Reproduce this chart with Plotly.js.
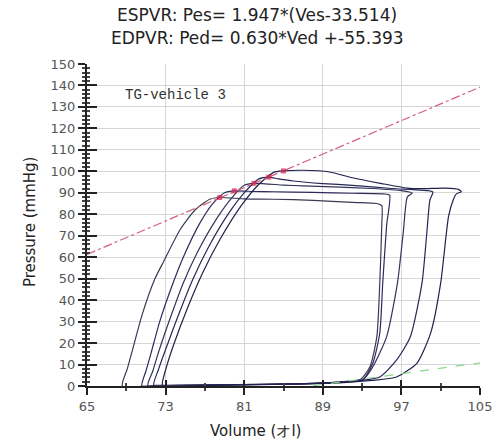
<!DOCTYPE html>
<html>
<head>
<meta charset="utf-8">
<script src="https://cdn.plot.ly/plotly-3.0.1.min.js"></script>
<style>html,body{margin:0;padding:0;background:#fff;}#chart{width:500px;height:447px;}</style>
</head>
<body>
<div id="chart"></div>
<script>
// Titles and labels
const titleLine1 = "ESPVR: Pes= 1.947*(Ves-33.514)";
const titleLine2 = "EDPVR: Ped= 0.630*Ved +-55.393";
const xTitle = "Volume (オl)";
const yTitle = "Pressure (mmHg)";
const noteText = "TG-vehicle 3";

// Regression lines
const espvrV = [65, 105];
const espvrP = [61.3, 139.2];
const edpvrV = [88, 105];
const edpvrP = [0.05, 10.8];

// PV loops (volume, pressure)
const loop1V = [68.6,72,78,84,88,91,92.8, 93.8,94.5,94.8,95.0,95.0, 94.5,92,88,84,81,78.5, 77.5,76,74.5,72.8,71.9,70.6,69.7,69.1,68.6];
const loop1P = [0,0.3,0.5,0.8,1.2,2,3, 9,23,48,75,84, 85,85.5,86.5,87,87.2,87.8, 87,82,73,58,49.8,33,18,8,0];

const loop2V = [70.6,74,80,86,90,92,93.1, 94.1,94.8,95.1,95.5,95.8, 95.2,92,88,84,82,80, 79,77.8,76.5,74.8,73.6,72.4,71.5,71,70.6];
const loop2P = [0,0.3,0.6,1,1.6,2.3,3, 10.7,24.7,48,75,88.9, 89.5,89.8,90.2,90.5,90.6,90.9, 90,85,76,60,46,30,15,7,0];

const loop3V = [71.2,75,81,87,90,92,93.1, 94.1,95.5,96.6,97.2,97.6,98.1, 97,94,90,87,85,82, 81,79.8,78.2,76.2,74.8,73.5,72.3,71.7,71.2];
const loop3P = [0,0.3,0.6,1,1.5,2.2,3, 9,23,48,72,88,89.9, 91,92,92.8,93.2,93.6,94.4, 93.5,88,78,62,48,32,16,7,0];

const loop4V = [71.8,76,82,88,91,93,94.8, 96.5,97.9,99.1,99.6,99.9,100.2, 99,96,92,89,86,84.5,83.5, 82.5,81.2,79.5,77.4,75.8,74.3,73,72.3,71.8];
const loop4P = [0,0.3,0.7,1.2,1.8,2.6,4.2, 12,22.8,48,72,86.6,90.4, 91.2,92,93.5,94.3,95.5,96.5,97.3, 96.5,91,81,65,50,33,17,8,0];

const loop5V = [72.7,77,83,88,91,94,96.5, 98.6,100,101,101.8,102.3,102.6, 103.1,102.8,101.5, 99,97.6,95,92,89.7,87,85, 84,82.5,80.7,78.5,76.8,75.2,73.8,73.1,72.7];
const loop5P = [0,0.3,0.7,1.1,1.6,2.6,4.2, 10.7,25,48,79,87,89.5, 90.5,91.6,92.2, 91.9,92.2,94.3,97,99.7,100.5,100.2, 99.5,94,84,68,53,36,19,9,0];

// End-systolic points on the ESPVR
const esV = [78.5, 80, 82, 83.5, 85];
const esP = [87.8, 90.9, 94.4, 97.3, 100.2];

const loopColors = ['#3a3a55', '#2c2c60', '#33335a', '#262658', '#20204f'];
const loops = [[loop1V, loop1P], [loop2V, loop2P], [loop3V, loop3P], [loop4V, loop4P], [loop5V, loop5P]];

const traces = [];
loops.forEach((l, i) => {
  traces.push({x: l[0], y: l[1], type: 'scatter', mode: 'lines',
    line: {color: loopColors[i], width: 1.2, shape: 'spline', smoothing: 0.6},
    hoverinfo: 'skip', showlegend: false});
});
traces.push({x: espvrV, y: espvrP, type: 'scatter', mode: 'lines',
  line: {color: '#d4607a', width: 1.2, dash: 'dashdot'}, showlegend: false, hoverinfo: 'skip'});
traces.push({x: edpvrV, y: edpvrP, type: 'scatter', mode: 'lines',
  line: {color: '#8fd68f', width: 1.2, dash: 'dash'}, showlegend: false, hoverinfo: 'skip'});
traces.push({x: esV, y: esP, type: 'scatter', mode: 'markers',
  marker: {color: 'rgba(210,40,80,0.75)', size: 5, symbol: 'square'}, showlegend: false, hoverinfo: 'skip'});
// invisible trace to keep the inside-tick overlay axes drawn
traces.push({x: [65], y: [0], xaxis: 'x2', yaxis: 'y2', mode: 'markers',
  marker: {opacity: 0}, showlegend: false, hoverinfo: 'skip'});

const tickFont = {family: 'DejaVu Sans', size: 13, color: '#555'};

const layout = {
  width: 500, height: 447,
  margin: {l: 87, r: 20, t: 64, b: 61},
  paper_bgcolor: '#fff', plot_bgcolor: '#fff',
  xaxis: {
    range: [65, 105], tick0: 65, dtick: 8, tickmode: 'linear',
    showgrid: true, gridcolor: '#d6d6d6', gridwidth: 1,
    zeroline: false, showline: true, linecolor: '#222', linewidth: 2,
    ticks: 'outside', ticklen: 7, tickwidth: 2, tickcolor: '#222',
    minor: {ticks: 'outside', ticklen: 3, dtick: 4, tick0: 65, tickcolor: '#444', showgrid: false},
    tickfont: tickFont, fixedrange: true
  },
  yaxis: {
    range: [0, 150], tick0: 0, dtick: 10, tickmode: 'linear',
    showgrid: true, gridcolor: '#d6d6d6', gridwidth: 1,
    zeroline: false, showline: true, linecolor: '#222', linewidth: 2,
    ticks: 'outside', ticklen: 7, tickwidth: 2, tickcolor: '#222',
    minor: {ticks: 'outside', ticklen: 3, dtick: 2, tick0: 0, tickcolor: '#444', showgrid: false},
    tickfont: tickFont, fixedrange: true
  },
  xaxis2: {
    overlaying: 'x', anchor: 'y2', side: 'bottom', range: [65, 105], tick0: 65, dtick: 8, tickmode: 'linear',
    showgrid: false, zeroline: false, showline: false, showticklabels: false,
    ticks: 'inside', ticklen: 6, tickwidth: 2, tickcolor: '#222',
    minor: {ticks: 'inside', ticklen: 3, dtick: 4, tick0: 65, tickcolor: '#444', showgrid: false},
    fixedrange: true
  },
  yaxis2: {
    overlaying: 'y', anchor: 'x2', side: 'left', range: [0, 150], tick0: 0, dtick: 10, tickmode: 'linear',
    showgrid: false, zeroline: false, showline: false, showticklabels: false,
    ticks: 'inside', ticklen: 10, tickwidth: 2, tickcolor: '#222',
    minor: {ticks: 'inside', ticklen: 3, dtick: 2, tick0: 0, tickcolor: '#444', showgrid: false},
    fixedrange: true
  },
  annotations: [
    {text: titleLine1, xref: 'paper', yref: 'paper', x: 0.4326, y: 1.152, xanchor: 'center', yanchor: 'middle',
      showarrow: false, font: {family: 'DejaVu Sans', size: 17, color: '#222'}},
    {text: titleLine2, xref: 'paper', yref: 'paper', x: 0.4326, y: 1.081, xanchor: 'center', yanchor: 'middle',
      showarrow: false, font: {family: 'DejaVu Sans', size: 17, color: '#222'}},
    {text: yTitle, xref: 'paper', yref: 'paper', x: -0.145, y: 0.509, xanchor: 'center', yanchor: 'middle',
      textangle: -90, showarrow: false, font: {family: 'DejaVu Sans', size: 15, color: '#222'}},
    {text: xTitle, xref: 'paper', yref: 'paper', x: 0.43, y: -0.14, xanchor: 'center', yanchor: 'middle',
      showarrow: false, font: {family: 'DejaVu Sans', size: 15, color: '#222'}},
    {text: noteText, xref: 'paper', yref: 'paper', x: (123 - 87) / 393, y: (386 - 95) / 322, xanchor: 'left', yanchor: 'middle',
      showarrow: false, font: {family: 'Liberation Mono', size: 14, color: '#333'}}
  ]
};

Plotly.newPlot('chart', traces, layout, {displayModeBar: false, staticPlot: true});
</script>
</body>
</html>
